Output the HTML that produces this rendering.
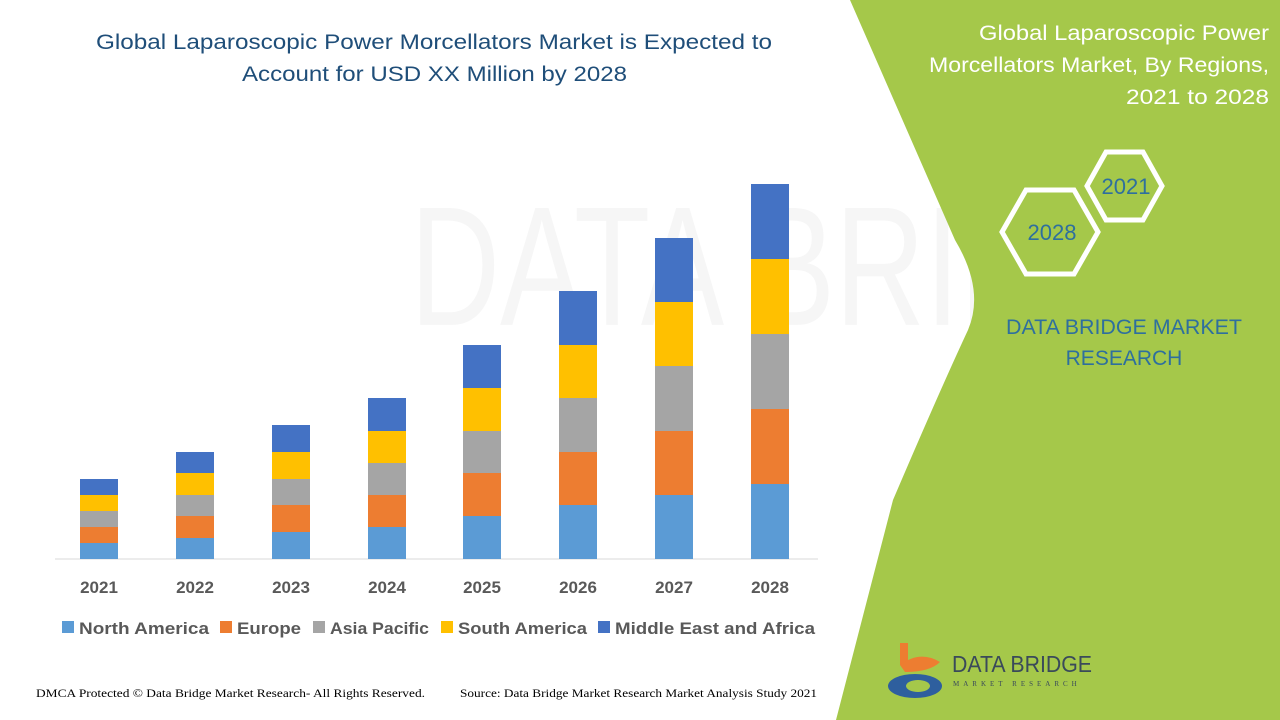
<!DOCTYPE html>
<html><head><meta charset="utf-8"><style>
body{margin:0;width:1280px;height:720px;overflow:hidden;background:#fff;font-family:"Liberation Sans",sans-serif}
</style></head><body>
<svg width="1280" height="720" viewBox="0 0 1280 720" xmlns="http://www.w3.org/2000/svg" style="position:absolute;left:0;top:0">
<rect width="1280" height="720" fill="#fff"/>
<text x="410" y="280" font-size="170" fill="#f6f6f6" font-family="Liberation Sans" textLength="820" lengthAdjust="spacingAndGlyphs" dominant-baseline="middle">DATA BRIDGE</text>
<path d="M850 0 L1280 0 L1280 720 L836 720 L893 500 Q940 390 968 330 Q985 290 955 240 Z" fill="#a5c84a"/>
<g stroke="#fff" stroke-width="5" fill="none">
<polygon points="1002,232 1026,190 1074,190 1098,232 1074,274 1026,274"/>
<polygon points="1087,186 1106,152 1143,152 1162,186 1143,220 1106,220"/>
</g>
<g font-family="Liberation Sans" fill="#2e6f9e" font-size="22" text-anchor="middle">
<text x="1052" y="240">2028</text>
<text x="1126" y="194">2021</text>
<text x="1124" y="334" font-size="21" textLength="236" lengthAdjust="spacingAndGlyphs">DATA BRIDGE MARKET</text>
<text x="1124" y="365" font-size="21">RESEARCH</text>
</g>
<g font-family="Liberation Sans" fill="#fff" font-size="21" text-anchor="end">
<text x="1269" y="40" textLength="290" lengthAdjust="spacingAndGlyphs">Global Laparoscopic Power</text>
<text x="1269" y="72" textLength="340" lengthAdjust="spacingAndGlyphs">Morcellators Market, By Regions,</text>
<text x="1269" y="104" textLength="143" lengthAdjust="spacingAndGlyphs">2021 to 2028</text>
</g>
<g font-family="Liberation Sans" fill="#1f4e79" font-size="21">
<text x="96" y="49" textLength="676" lengthAdjust="spacingAndGlyphs">Global Laparoscopic Power Morcellators Market is Expected to</text>
<text x="242" y="81" textLength="385" lengthAdjust="spacingAndGlyphs">Account for USD XX Million by 2028</text>
</g>
<line x1="55" y1="559" x2="818" y2="559" stroke="#d9d9d9" stroke-width="1"/>
<g>
<rect x="80" y="543" width="38" height="16" fill="#5b9bd5"/><rect x="80" y="527" width="38" height="16" fill="#ed7d31"/><rect x="80" y="511" width="38" height="16" fill="#a5a5a5"/><rect x="80" y="495" width="38" height="16" fill="#ffc000"/><rect x="80" y="479" width="38" height="16" fill="#4472c4"/>
<rect x="176" y="538" width="38" height="21" fill="#5b9bd5"/><rect x="176" y="516" width="38" height="22" fill="#ed7d31"/><rect x="176" y="495" width="38" height="21" fill="#a5a5a5"/><rect x="176" y="473" width="38" height="22" fill="#ffc000"/><rect x="176" y="452" width="38" height="21" fill="#4472c4"/>
<rect x="272" y="532" width="38" height="27" fill="#5b9bd5"/><rect x="272" y="505" width="38" height="27" fill="#ed7d31"/><rect x="272" y="479" width="38" height="26" fill="#a5a5a5"/><rect x="272" y="452" width="38" height="27" fill="#ffc000"/><rect x="272" y="425" width="38" height="27" fill="#4472c4"/>
<rect x="368" y="527" width="38" height="32" fill="#5b9bd5"/><rect x="368" y="495" width="38" height="32" fill="#ed7d31"/><rect x="368" y="463" width="38" height="32" fill="#a5a5a5"/><rect x="368" y="431" width="38" height="32" fill="#ffc000"/><rect x="368" y="398" width="38" height="33" fill="#4472c4"/>
<rect x="463" y="516" width="38" height="43" fill="#5b9bd5"/><rect x="463" y="473" width="38" height="43" fill="#ed7d31"/><rect x="463" y="431" width="38" height="42" fill="#a5a5a5"/><rect x="463" y="388" width="38" height="43" fill="#ffc000"/><rect x="463" y="345" width="38" height="43" fill="#4472c4"/>
<rect x="559" y="505" width="38" height="54" fill="#5b9bd5"/><rect x="559" y="452" width="38" height="53" fill="#ed7d31"/><rect x="559" y="398" width="38" height="54" fill="#a5a5a5"/><rect x="559" y="345" width="38" height="53" fill="#ffc000"/><rect x="559" y="291" width="38" height="54" fill="#4472c4"/>
<rect x="655" y="495" width="38" height="64" fill="#5b9bd5"/><rect x="655" y="431" width="38" height="64" fill="#ed7d31"/><rect x="655" y="366" width="38" height="65" fill="#a5a5a5"/><rect x="655" y="302" width="38" height="64" fill="#ffc000"/><rect x="655" y="238" width="38" height="64" fill="#4472c4"/>
<rect x="751" y="484" width="38" height="75" fill="#5b9bd5"/><rect x="751" y="409" width="38" height="75" fill="#ed7d31"/><rect x="751" y="334" width="38" height="75" fill="#a5a5a5"/><rect x="751" y="259" width="38" height="75" fill="#ffc000"/><rect x="751" y="184" width="38" height="75" fill="#4472c4"/>
</g>
<g font-family="Liberation Sans" font-weight="bold" font-size="17" fill="#595959" text-anchor="middle">
<text x="99" y="593">2021</text><text x="195" y="593">2022</text><text x="291" y="593">2023</text><text x="387" y="593">2024</text><text x="482" y="593">2025</text><text x="578" y="593">2026</text><text x="674" y="593">2027</text><text x="770" y="593">2028</text>
</g>
<g font-family="Liberation Sans" font-weight="bold" font-size="17" fill="#595959">
<rect x="62" y="621" width="12" height="12" fill="#5b9bd5"/><text x="79" y="634" textLength="130" lengthAdjust="spacingAndGlyphs">North America</text>
<rect x="220" y="621" width="12" height="12" fill="#ed7d31"/><text x="237" y="634" textLength="64" lengthAdjust="spacingAndGlyphs">Europe</text>
<rect x="313" y="621" width="12" height="12" fill="#a5a5a5"/><text x="330" y="634" textLength="99" lengthAdjust="spacingAndGlyphs">Asia Pacific</text>
<rect x="441" y="621" width="12" height="12" fill="#ffc000"/><text x="458" y="634" textLength="129" lengthAdjust="spacingAndGlyphs">South America</text>
<rect x="598" y="621" width="12" height="12" fill="#4472c4"/><text x="615" y="634" textLength="200" lengthAdjust="spacingAndGlyphs">Middle East and Africa</text>
</g>
<g font-family="Liberation Serif" font-size="12" fill="#000">
<text x="36" y="697" textLength="389" lengthAdjust="spacingAndGlyphs">DMCA Protected © Data Bridge Market Research- All Rights Reserved.</text>
<text x="460" y="697" textLength="357" lengthAdjust="spacingAndGlyphs">Source: Data Bridge Market Research Market Analysis Study 2021</text>
</g>
<g>
<rect x="900" y="643" width="8" height="22" fill="#ed7d31"/>
<path d="M900 665 Q920 650 940 662 Q930 672 905 672 Z" fill="#ed7d31"/>
<ellipse cx="915" cy="686" rx="27" ry="12" fill="#2e5f9e"/>
<ellipse cx="918" cy="686" rx="12" ry="6" fill="#a5c84a"/>
<text x="952" y="672" font-family="Liberation Sans" font-size="23" fill="#3a4a5a" textLength="140" lengthAdjust="spacingAndGlyphs">DATA BRIDGE</text>
<text x="953" y="686" font-family="Liberation Serif" font-size="7" fill="#3a4a5a" letter-spacing="4">MARKET RESEARCH</text>
</g>
</svg>
</body></html>
